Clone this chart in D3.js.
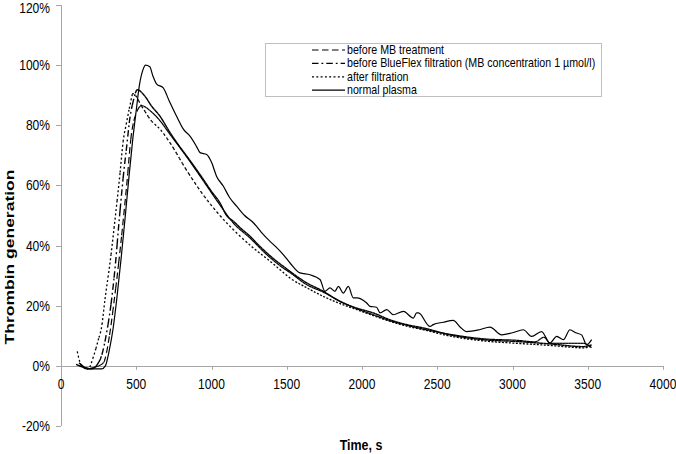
<!DOCTYPE html>
<html>
<head>
<meta charset="utf-8">
<script src="https://cdn.jsdelivr.net/npm/d3@7"></script>
<style>
  body { margin: 0; background: #fff; }
  svg { display: block; font-family: Arial, "Liberation Sans", sans-serif; }
</style>
</head>
<body>
<div id="chart"></div>
<script>
// series: time (s) and thrombin generation (fraction)
var beforeMbT = [130, 170, 220, 281, 325, 354, 385, 414, 440, 463, 500, 536, 600, 658, 724, 835, 946, 1056, 1145, 1256, 1367, 1477, 1522, 1632, 1743, 1854, 1965, 2075, 2186, 2297, 2408, 2585, 2806, 3028, 3150, 3210, 3249, 3470, 3526];
var beforeMbV = [0.005, -0.01, -0.005, 0.01, 0.11, 0.22, 0.35, 0.487, 0.62, 0.75, 0.84, 0.865, 0.845, 0.815, 0.77, 0.695, 0.615, 0.535, 0.475, 0.425, 0.37, 0.325, 0.31, 0.27, 0.245, 0.215, 0.19, 0.17, 0.15, 0.135, 0.122, 0.105, 0.09, 0.085, 0.08, 0.095, 0.075, 0.075, 0.06];

var blueFlexT = [120, 160, 200, 259, 303, 336, 360, 387, 414, 441, 454, 480, 507, 560, 600, 658, 724, 780, 835, 890, 946, 1000, 1056, 1100, 1145, 1200, 1256, 1310, 1367, 1420, 1477, 1522, 1632, 1743, 1854, 1965, 2075, 2186, 2297, 2408, 2585, 2806, 3028, 3249, 3470, 3526];
var blueFlexV = [0.01, -0.005, -0.01, 0.02, 0.11, 0.22, 0.33, 0.487, 0.63, 0.75, 0.81, 0.88, 0.918, 0.895, 0.865, 0.83, 0.776, 0.735, 0.698, 0.66, 0.62, 0.58, 0.542, 0.5, 0.481, 0.455, 0.431, 0.403, 0.376, 0.353, 0.331, 0.314, 0.276, 0.248, 0.214, 0.192, 0.176, 0.153, 0.137, 0.126, 0.103, 0.087, 0.081, 0.073, 0.064, 0.07];

var afterFiltT = [108, 137, 180, 215, 248, 270, 292, 330, 359, 390, 414, 436, 460, 478, 540, 600, 658, 724, 835, 946, 1056, 1167, 1278, 1389, 1455, 1522, 1632, 1743, 1854, 1965, 2075, 2186, 2297, 2408, 2585, 2806, 3028, 3249, 3470, 3526];
var afterFiltV = [0.048, 0, -0.01, 0.03, 0.087, 0.13, 0.22, 0.36, 0.487, 0.63, 0.75, 0.81, 0.87, 0.905, 0.86, 0.815, 0.787, 0.742, 0.65, 0.568, 0.5, 0.442, 0.392, 0.348, 0.32, 0.292, 0.26, 0.231, 0.207, 0.187, 0.167, 0.148, 0.132, 0.12, 0.099, 0.083, 0.075, 0.068, 0.06, 0.065];

var normalT = [100, 150, 200, 270, 295, 320, 345, 370, 400, 425, 450, 476, 500, 520, 545, 562, 590, 610, 636, 678, 720, 768, 813, 857, 900, 924, 968, 1001, 1034, 1078, 1120, 1167, 1220, 1278, 1330, 1389, 1430, 1477, 1522, 1588, 1654, 1721, 1754, 1787, 1820, 1843, 1876, 1909, 1942, 1965, 2031, 2053, 2097, 2120, 2164, 2208, 2275, 2341, 2363, 2375, 2452, 2473, 2540, 2606, 2650, 2695, 2780, 2850, 2928, 3000, 3072, 3127, 3193, 3249, 3294, 3338, 3382, 3420, 3459, 3493, 3526];
var normalV = [0.005, -0.005, -0.01, -0.01, 0, 0.05, 0.12, 0.22, 0.36, 0.487, 0.62, 0.75, 0.85, 0.93, 0.985, 1.0, 0.995, 0.965, 0.937, 0.925, 0.88, 0.83, 0.787, 0.764, 0.73, 0.709, 0.703, 0.676, 0.63, 0.598, 0.56, 0.531, 0.5, 0.476, 0.445, 0.414, 0.395, 0.37, 0.342, 0.309, 0.303, 0.287, 0.248, 0.259, 0.248, 0.264, 0.242, 0.264, 0.226, 0.226, 0.209, 0.198, 0.195, 0.176, 0.187, 0.17, 0.181, 0.159, 0.176, 0.176, 0.131, 0.137, 0.145, 0.151, 0.13, 0.114, 0.12, 0.129, 0.103, 0.11, 0.12, 0.098, 0.114, 0.076, 0.098, 0.087, 0.12, 0.11, 0.103, 0.07, 0.087];

var seriesNames = ["before MB treatment", "before BlueFlex filtration (MB concentration 1 \u00b5mol/l)", "after filtration", "normal plasma"];
var xTicks = [0, 500, 1000, 1500, 2000, 2500, 3000, 3500, 4000];
var yTicks = [-0.2, 0, 0.2, 0.4, 0.6, 0.8, 1.0, 1.2];

var width = 676, height = 454;
var squeeze = 0.86; // the picture text is a bit narrow

var svg = d3.select("#chart").append("svg")
  .attr("width", width)
  .attr("height", height);

var x = d3.scaleLinear().domain([0, 4000]).range([61, 663]);
var y = d3.scaleLinear().domain([-0.2, 1.2]).range([426, 5]);

var axisColor = "#a6a6a6";

// y axis
svg.append("line")
  .attr("x1", x(0) + 0.5).attr("x2", x(0) + 0.5)
  .attr("y1", y(-0.2)).attr("y2", y(1.2))
  .attr("stroke", axisColor).attr("stroke-width", 1);

yTicks.forEach(function(v) {
  var yy = Math.round(y(v)) + 0.5;
  svg.append("line")
    .attr("x1", x(0) - 5).attr("x2", x(0))
    .attr("y1", yy).attr("y2", yy)
    .attr("stroke", axisColor);
  svg.append("text")
    .attr("transform", "translate(50," + Math.max(y(v) + 5, 13) + ") scale(" + squeeze + ",1)")
    .attr("text-anchor", "end")
    .attr("font-size", 14)
    .attr("fill", "#000")
    .text(Math.round(v * 100) + "%");
});

// x axis at 0%
svg.append("line")
  .attr("x1", x(0)).attr("x2", x(4000))
  .attr("y1", Math.round(y(0)) + 0.5).attr("y2", Math.round(y(0)) + 0.5)
  .attr("stroke", axisColor);

xTicks.forEach(function(t) {
  var xx = Math.round(x(t)) + 0.5;
  svg.append("line")
    .attr("x1", xx).attr("x2", xx)
    .attr("y1", y(0)).attr("y2", y(0) + 4)
    .attr("stroke", axisColor);
  svg.append("text")
    .attr("transform", "translate(" + x(t) + ",389) scale(" + squeeze + ",1)")
    .attr("text-anchor", "middle")
    .attr("font-size", 14)
    .attr("fill", "#000")
    .text(t);
});

// axis titles
svg.append("text")
  .attr("transform", "translate(361,450) scale(" + squeeze + ",1)")
  .attr("text-anchor", "middle")
  .attr("font-size", 14.5)
  .attr("font-weight", "bold")
  .text("Time, s");

svg.append("text")
  .attr("transform", "translate(14,257) rotate(-90) scale(1,0.72)")
  .attr("text-anchor", "middle")
  .attr("font-size", 17.5)
  .attr("font-weight", "bold")
  .text("Thrombin generation");

// lines
var styles = [
  { dash: "6.5,3.5", width: 1.2 },
  { dash: "6.5,3,1.8,3", width: 1.4 },
  { dash: "2,2.3", width: 1.3 },
  { dash: null, width: 1.2 }
];

var series = [
  d3.zip(beforeMbT, beforeMbV),
  d3.zip(blueFlexT, blueFlexV),
  d3.zip(afterFiltT, afterFiltV),
  d3.zip(normalT, normalV)
];

var line = d3.line()
  .x(function(d) { return x(d[0]); })
  .y(function(d) { return y(d[1]); })
  .curve(d3.curveMonotoneX);

var plain = d3.line()
  .x(function(p) { return p.x; })
  .y(function(p) { return p.y; });

// the spreadsheet restarts the dash pattern on every short piece,
// so flat stretches look solid and steep ones show the dashes
function drawDashed(data, style) {
  var tmp = svg.append("path").attr("d", line(data)).attr("fill", "none");
  var node = tmp.node();
  var total = node.getTotalLength();
  var pieces = [], cur = [], startX = 0;
  for (var l = 0; l <= total; l += 0.5) {
    var p = node.getPointAtLength(l);
    if (!cur.length) { cur.push(p); startX = p.x; continue; }
    cur.push(p);
    if (p.x - startX >= 3) {
      pieces.push(cur);
      cur = [p];
      startX = p.x;
    }
  }
  if (cur.length > 1) pieces.push(cur);
  tmp.remove();

  svg.append("g").selectAll("path").data(pieces)
    .enter().append("path")
    .attr("d", plain)
    .attr("fill", "none")
    .attr("stroke", "#000")
    .attr("stroke-width", style.width)
    .attr("stroke-dasharray", style.dash);
}

series.forEach(function(data, i) {
  if (styles[i].dash) {
    drawDashed(data, styles[i]);
  } else {
    svg.append("path")
      .datum(data)
      .attr("d", line)
      .attr("fill", "none")
      .attr("stroke", "#000")
      .attr("stroke-width", styles[i].width);
  }
});

// legend
var legend = svg.append("g");
legend.append("rect")
  .attr("x", 265.5).attr("y", 43.5)
  .attr("width", 336).attr("height", 53)
  .attr("fill", "#fff")
  .attr("stroke", "#bfbfbf");

seriesNames.forEach(function(name, i) {
  var ly = 50 + i * 13.4;
  legend.append("line")
    .attr("x1", 312).attr("x2", 345)
    .attr("y1", ly).attr("y2", ly)
    .attr("stroke", "#000")
    .attr("stroke-width", styles[i].width)
    .attr("stroke-dasharray", styles[i].dash);
  legend.append("text")
    .attr("transform", "translate(347," + (ly + 4) + ") scale(" + squeeze + ",1)")
    .attr("font-size", 12.4)
    .text(name);
});
</script>
</body>
</html>
